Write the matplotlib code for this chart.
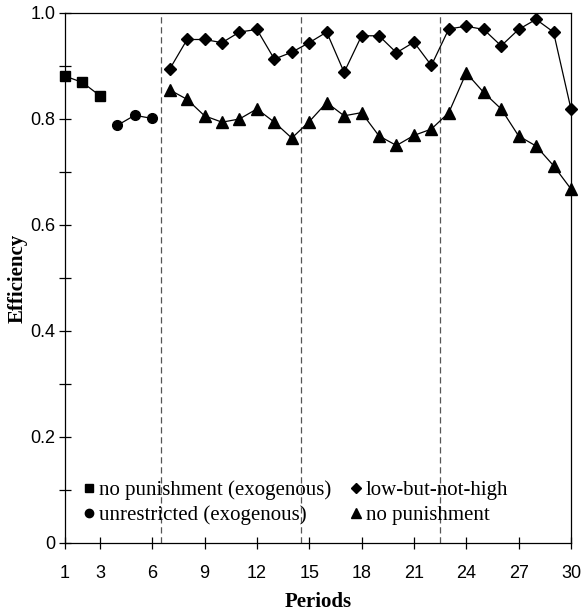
import matplotlib.pyplot as plt
from matplotlib.lines import Line2D

periods_sq = [1, 2, 3]
eff_sq = [0.881, 0.869, 0.844]
periods_ci = [4, 5, 6]
eff_ci = [0.788, 0.807, 0.801]
periods_main = list(range(7, 31))
eff_diamond = [0.894, 0.950, 0.950, 0.944, 0.964, 0.969, 0.913, 0.926,
               0.944, 0.964, 0.888, 0.957, 0.957, 0.925, 0.945, 0.901,
               0.970, 0.975, 0.969, 0.938, 0.969, 0.988, 0.964, 0.819]
eff_triangle = [0.855, 0.837, 0.806, 0.794, 0.800, 0.819, 0.794, 0.764,
                0.795, 0.831, 0.806, 0.812, 0.768, 0.750, 0.769, 0.781,
                0.812, 0.887, 0.850, 0.819, 0.768, 0.749, 0.712, 0.668]
dividers = [6.5, 14.5, 22.5]
xticks = [1, 3, 6, 9, 12, 15, 18, 21, 24, 27, 30]

fig = plt.figure(figsize=(5.88, 6.13), dpi=100)
ax = fig.add_axes([0.1105, 0.1142, 0.8605, 0.8646])

for d in dividers:
    ax.axvline(d, color='#555555', ls=(0, (5, 3)), lw=0.9)

kw = dict(color='black', lw=0.9, clip_on=False)
ax.plot(periods_sq, eff_sq, marker='s', ms=7, **kw)
ax.plot(periods_ci, eff_ci, marker='o', ms=7, **kw)
ax.plot(periods_main, eff_diamond, marker='D', ms=6.5, **kw)
ax.plot(periods_main, eff_triangle, marker='^', ms=8, **kw)

ax.set_xlim(1, 30)
ax.set_ylim(0, 1.0)
ax.set_xticks(xticks)
ax.set_yticks([0, 0.2, 0.4, 0.6, 0.8, 1.0])
ax.set_yticklabels(['0', '0.2', '0.4', '0.6', '0.8', '1.0'])
ax.set_yticks([0.1, 0.3, 0.5, 0.7, 0.9], minor=True)
ax.tick_params(which='both', direction='inout', length=8, width=0.9,
               labelsize=13)
for lab in ax.get_xticklabels() + ax.get_yticklabels():
    lab.set_fontfamily('Liberation Sans')
ax.tick_params(axis='x', pad=12)
ax.tick_params(axis='y', pad=3)
for s in ax.spines.values():
    s.set_linewidth(0.9)

ax.set_xlabel('Periods', fontfamily='Liberation Serif', fontweight='bold',
              fontsize=15, labelpad=7)
ax.set_ylabel('Efficiency', fontfamily='Liberation Serif', fontweight='bold',
              fontsize=15, labelpad=2)

handles = [
    Line2D([], [], color='black', marker='s', ls='none', ms=6),
    Line2D([], [], color='black', marker='o', ls='none', ms=6),
    Line2D([], [], color='black', marker='D', ls='none', ms=5.5),
    Line2D([], [], color='black', marker='^', ls='none', ms=6.5),
]
labels = ['no punishment (exogenous)', 'unrestricted (exogenous)',
          'low-but-not-high', 'no punishment']
ax.legend(handles, labels, ncol=2, loc='lower left',
          bbox_to_anchor=(0.0, -0.002), frameon=False, handlelength=0.5,
          handletextpad=0.25, columnspacing=0.9, labelspacing=0.25,
          prop={'family': 'Liberation Serif', 'size': 15})

plt.savefig('out.png', dpi=100)
